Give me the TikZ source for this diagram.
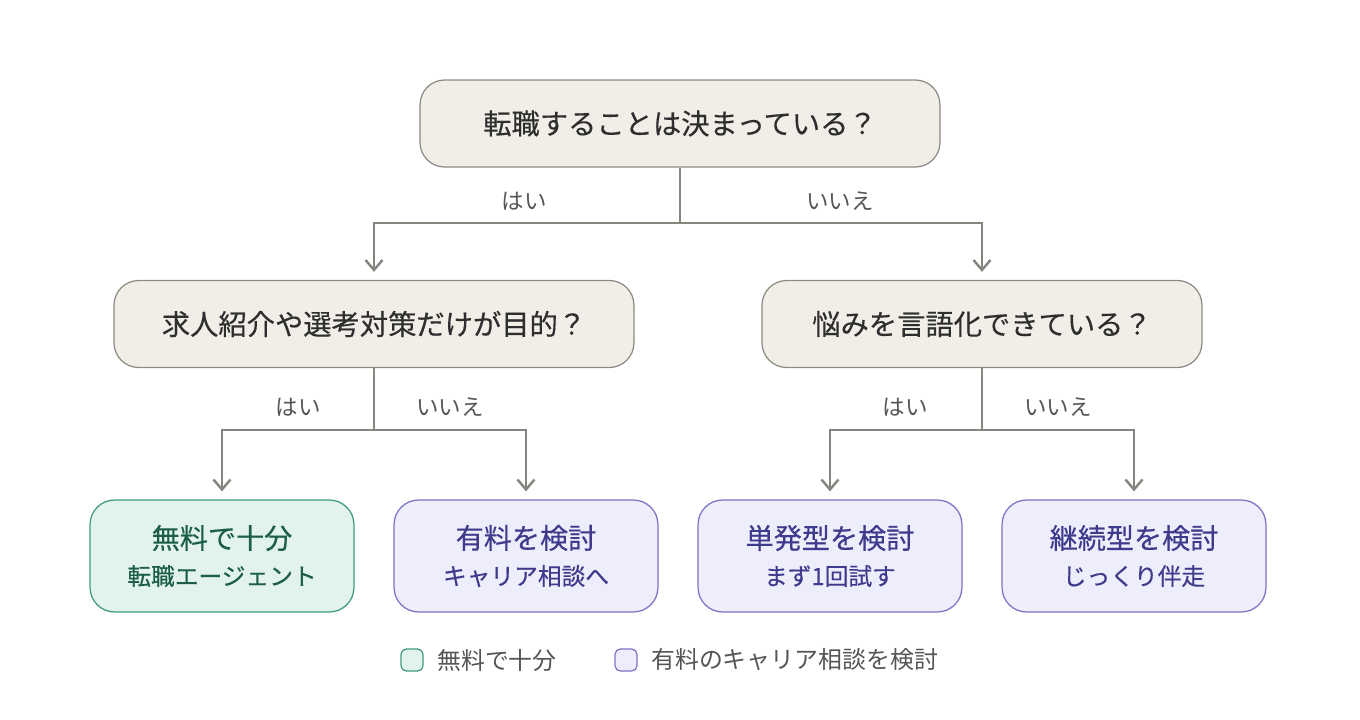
\documentclass[tikz,border=0pt]{standalone}
\usepackage{fontspec}
\setmainfont{Noto Sans CJK JP}
\newfontfamily\medfont[FakeBold=0.35]{Noto Sans CJK JP}
\usetikzlibrary{arrows.meta}
\definecolor{qfill}{HTML}{F1EEE7}
\definecolor{qdraw}{HTML}{8C8A82}
\definecolor{qtext}{HTML}{2E2E2E}
\definecolor{gfill}{HTML}{E1F3EC}
\definecolor{gdraw}{HTML}{3F9A7A}
\definecolor{gtext}{HTML}{1C5E4A}
\definecolor{pfill}{HTML}{EEEDFB}
\definecolor{pdraw}{HTML}{7B72C4}
\definecolor{ptext}{HTML}{3E3A8C}
\definecolor{wire}{HTML}{86867E}
\definecolor{ltext}{HTML}{555555}
\tikzset{
  question/.style = {draw=qdraw, fill=qfill, text=qtext, rounded corners=14pt, line width=0.7pt,
    minimum height=1.74cm, font=\medfont\fontsize{16.1}{18}\selectfont, inner sep=0pt},
  free/.style = {draw=gdraw, fill=gfill, text=gtext, rounded corners=14pt, line width=0.7pt,
    minimum width=5.28cm, minimum height=2.24cm, align=center, inner sep=0pt, font=\medfont},
  paid/.style = {free, draw=pdraw, fill=pfill, text=ptext},
  conn/.style = {draw=wire, line width=1.4pt},
  arr/.style = {conn, -{Straight Barb[length=2mm,width=3.4mm]}, shorten >=0.16cm},
  answer/.style = {text=ltext, font=\fontsize{12.8}{14}\selectfont},
  key/.style = {rounded corners=3pt, line width=0.7pt, minimum size=0.44cm, inner sep=0pt}
}
\newcommand{\leaf}[2]{{\fontsize{16}{18}\selectfont #1}\\[7pt]{\fontsize{13.5}{15}\selectfont #2}}
\begin{document}
\begin{tikzpicture}[x=0.02cm, y=-0.02cm]
  \useasboundingbox (0,0) rectangle (1360,720);

  % questions
  \node[question, minimum width=10.4cm] (q1) at (680,123.5) {転職することは決まっている？};
  \node[question, minimum width=10.4cm] (q2) at (374,324) {求人紹介や選考対策だけが目的？};
  \node[question, minimum width=8.8cm] (q3) at (982,324) {悩みを言語化できている？};

  % results
  \node[free] (r1) at (222,556) {\leaf{無料で十分}{転職エージェント}};
  \node[paid] (r2) at (526,556) {\leaf{有料を検討}{キャリア相談へ}};
  \node[paid] (r3) at (830,556) {\leaf{単発型を検討}{まず1回試す}};
  \node[paid] (r4) at (1134,556) {\leaf{継続型を検討}{じっくり伴走}};

  % branch points
  \coordinate (j1) at (680,223);
  \coordinate (j2) at (374,430);
  \coordinate (j3) at (982,430);

  \draw[conn] (q1.south) -- (j1);
  \draw[arr] (j1) -| (q2.north);
  \draw[arr] (j1) -| (q3.north);
  \draw[conn] (q2.south) -- (j2);
  \draw[arr] (j2) -| (r1.north);
  \draw[arr] (j2) -| (r2.north);
  \draw[conn] (q3.south) -- (j3);
  \draw[arr] (j3) -| (r3.north);
  \draw[arr] (j3) -| (r4.north);

  % answers
  \node[answer] (a1) at (524,201) {はい};
  \node[answer] (a2) at (840,201) {いいえ};
  \node[answer] (a3) at (298,407) {はい};
  \node[answer] (a4) at (450,407) {いいえ};
  \node[answer] (a5) at (905,407) {はい};
  \node[answer] (a6) at (1058,407) {いいえ};

  % legend
  \node[key, draw=gdraw, fill=gfill] (k1) at (412,660) {};
  \node[answer, anchor=west, font=\fontsize{13.6}{15}\selectfont] (t1) at (431,660) {無料で十分};
  \node[key, draw=pdraw, fill=pfill] (k2) at (626,660) {};
  \node[answer, anchor=west, font=\fontsize{13.6}{15}\selectfont] (t2) at (645,660) {有料のキャリア相談を検討};
\end{tikzpicture}
\end{document}
